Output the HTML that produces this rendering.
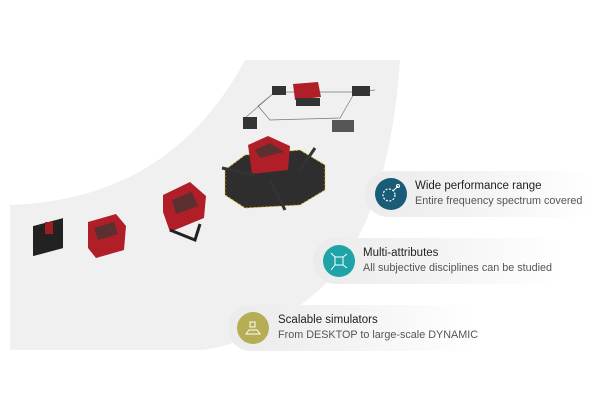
<!DOCTYPE html>
<html><head><style>
body{margin:0;width:600px;height:400px;background:#fff;position:relative;overflow:hidden;font-family:"Liberation Sans",sans-serif}
.pill{position:absolute;height:46px;border-radius:23px;background:linear-gradient(90deg,#ebebeb 0%,#f3f3f3 45%,rgba(255,255,255,0) 100%)}
.c{position:absolute;width:32px;height:32px;border-radius:50%;left:10px;top:7px}
.c svg{position:absolute;left:0;top:0}
.t{position:absolute;font-size:11.5px;color:#222;white-space:nowrap}
.s{position:absolute;font-size:10.8px;color:#555;white-space:nowrap}
</style></head><body>
<svg width="600" height="400" style="position:absolute;left:0;top:0">
<path d="M10,205 Q170,200 245,60 L400,60 Q390,210 330,280 Q260,345 200,350 L10,350 Z" fill="#f0f0f0"/>
<rect x="33" y="225" width="30" height="30" fill="#222" transform="skewY(-15) translate(0,10)"/>
<rect x="45" y="222" width="8" height="12" fill="#a01c24"/>
<path d="M88,222 L116,214 L126,226 L124,250 L96,258 L88,248 Z" fill="#b01e28"/>
<path d="M94,228 L114,222 L118,234 L98,240 Z" fill="#5a3030"/>
<path d="M163,195 L190,182 L206,196 L204,218 L170,232 L163,212 Z" fill="#b01e28"/>
<path d="M172,200 L192,192 L198,206 L176,214 Z" fill="#5a3030"/>
<path d="M170,230 L195,240 L200,224" stroke="#222" stroke-width="3" fill="none"/>
<polygon points="225,170 245,155 300,150 325,165 325,190 300,205 245,208 225,195" fill="#2e2e2e" stroke="#e0c020" stroke-dasharray="2,2"/>
<path d="M248,145 L268,136 L290,146 L288,170 L252,174 Z" fill="#b01e28"/>
<path d="M255,150 L270,143 L284,152 L260,158 Z" fill="#5a3030"/>
<path d="M222,168 L255,175 M300,170 L315,148 M270,180 L285,210" stroke="#333" stroke-width="3"/>
<path d="M275,92 L355,92 L340,118 L270,120 L258,106 Z M275,92 L245,118 M355,92 L375,90" stroke="#777" fill="none" stroke-width="0.7"/>
<path d="M293,84 L318,82 L321,97 L295,100 Z" fill="#b01e28"/>
<rect x="296" y="98" width="24" height="8" fill="#333"/>
<rect x="272" y="86" width="14" height="9" fill="#333"/>
<rect x="352" y="86" width="18" height="10" fill="#333"/>
<rect x="243" y="117" width="14" height="12" fill="#333"/>
<rect x="332" y="120" width="22" height="12" fill="#555"/>
</svg>
<div class="pill" style="left:365px;top:171px;width:230px"><div class="c" style="background:#1a5b78"><svg width="32" height="32"><circle cx="14" cy="17" r="6" fill="none" stroke="#fff" stroke-width="1.2" stroke-dasharray="2,1.5"/><path d="M18,13 L23,8" stroke="#fff"/><circle cx="23" cy="8" r="1.5" fill="none" stroke="#fff"/></svg></div>
<div class="t" style="left:50px;top:9px">Wide performance range</div><div class="s" style="left:50px;top:24px">Entire frequency spectrum covered</div></div>
<div class="pill" style="left:313px;top:238px;width:250px"><div class="c" style="background:#1ea4a8"><svg width="32" height="32"><path d="M12,12 L20,12 L20,20 L12,20 Z M12,12 L8,8 M20,12 L24,9 M20,20 L24,23 M12,20 L8,25" stroke="#fff" fill="none" stroke-width="1"/></svg></div>
<div class="t" style="left:50px;top:9px">Multi-attributes</div><div class="s" style="left:50px;top:24px">All subjective disciplines can be studied</div></div>
<div class="pill" style="left:228px;top:305px;width:250px"><div class="c" style="background:#b6ad55;left:9px"><svg width="32" height="32"><path d="M9,22 L23,22 L20,18 L12,18 Z M13,10 L18,10 L18,15 L13,15 Z" stroke="#fff" fill="none" stroke-width="1"/></svg></div>
<div class="t" style="left:50px;top:9px">Scalable simulators</div><div class="s" style="left:50px;top:24px">From DESKTOP to large-scale DYNAMIC</div></div>
</body></html>
